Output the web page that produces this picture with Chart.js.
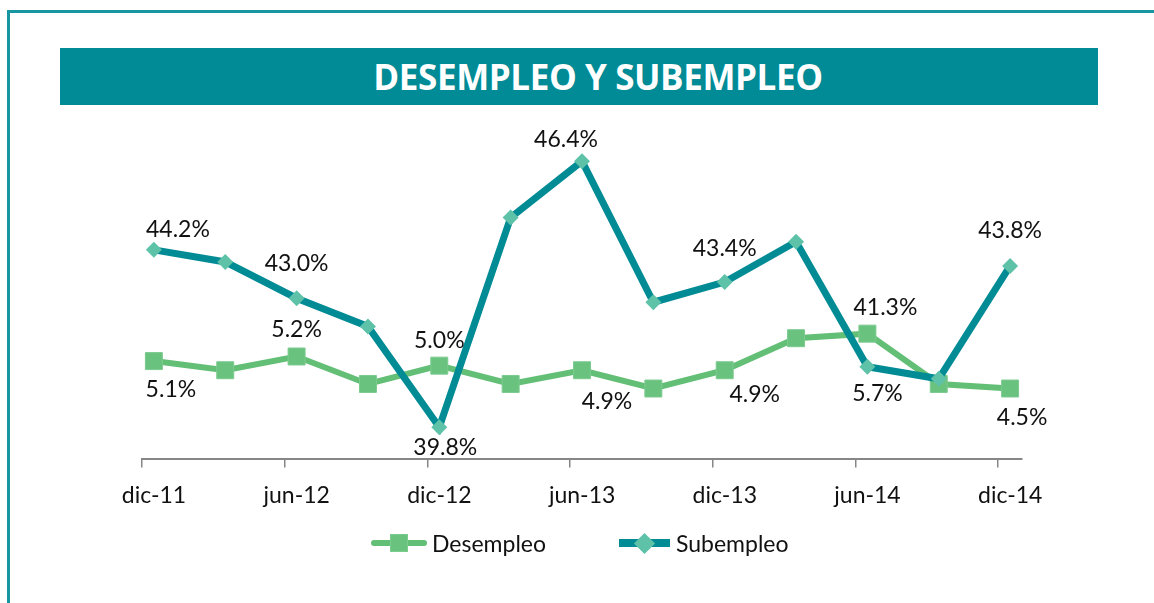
<!DOCTYPE html>
<html>
<head>
<meta charset="utf-8">
<script src="https://cdn.jsdelivr.net/npm/chart.js@4/dist/chart.umd.min.js"></script>
<style>
  body { margin: 0; background: #fff; }
  #page { position: relative; width: 1154px; height: 603px; overflow: hidden; font-family: Lato, sans-serif; }
  #frame { position: absolute; left: 7px; top: 10px; right: -5px; bottom: -5px;
           border-top: 3px solid #1796a0; border-left: 3px solid #1796a0; }
  #banner { position: absolute; left: 60px; top: 48px; width: 1038px; height: 57px; background: #008b96;
            color: #fff; font: bold 35px "Open Sans", sans-serif; letter-spacing: -0.4px;
            display: flex; align-items: center; justify-content: center; padding-left: 38px; box-sizing: border-box; }
  #chart { position: absolute; left: 0; top: 0; }
  .lg { position: absolute; }
  .lg-text { position: absolute; font-size: 23px; color: #111; line-height: 28px; top: 529px; }
</style>
</head>
<body>
<div id="page">
  <div id="frame"></div>
  <div id="banner">DESEMPLEO Y SUBEMPLEO</div>
  <canvas id="chart" width="1154" height="603"></canvas>
  <div id="legend"></div>
</div>
<script>
// quarterly periods, dic-11 .. dic-14
const periods = ["dic-11","mar-12","jun-12","sep-12","dic-12","mar-13","jun-13","sep-13","dic-13","mar-14","jun-14","sep-14","dic-14"];
const tickLabels = ["dic-11","jun-12","dic-12","jun-13","dic-13","jun-14","dic-14"];

// rates in %
const desempleo = [5.1, 4.9, 5.2, 4.6, 5.0, 4.6, 4.9, 4.5, 4.9, 5.6, 5.7, 4.6, 4.5];
const subempleo = [44.2, 43.9, 43.0, 42.3, 39.8, 45.0, 46.4, 42.9, 43.4, 44.4, 41.3, 41.0, 43.8];

const GREEN = "#63be76", GREEN_PT = "#6ac27f";
const TEAL = "#008b95", TEAL_PT = "#5ec2a9";

// month slots since dic-11, points sit in the middle of their month (excel date axis)
const toPts = (vals) => vals.map((v, i) => ({ x: i * 3 + 0.5, y: v }));

// label offsets (px) from the point, per labelled point (every other one)
const labelOffsets = {
  0: [[17, 28], [0, -28], [0, -26], [25, 31], [30, 24], [10, 59], [12, 28]],
  1: [[24, -21], [0, -35], [6, 20], [-16, -22], [0, -34], [18, -60], [0, -36]]
};

const pointLabels = {
  id: "pointLabels",
  afterDatasetsDraw(chart) {
    const ctx = chart.ctx;
    ctx.save();
    ctx.font = "23px Lato";
    ctx.fillStyle = "#111";
    ctx.textAlign = "center";
    ctx.textBaseline = "alphabetic";
    chart.data.datasets.forEach((ds, di) => {
      const meta = chart.getDatasetMeta(di);
      meta.data.forEach((pt, i) => {
        if (i % 2) return;
        const off = labelOffsets[di][i / 2];
        const txt = ds.data[i].y.toFixed(1) + "%";
        ctx.fillText(txt, pt.x + off[0], pt.y + off[1] + 8);
      });
    });
    ctx.restore();
  }
};

new Chart(document.getElementById("chart"), {
  type: "line",
  data: {
    datasets: [
      {
        label: "Desempleo", data: toPts(desempleo), yAxisID: "y", order: 1,
        borderColor: GREEN, borderWidth: 6, backgroundColor: GREEN_PT,
        pointStyle: "rect", pointRadius: 12, pointBorderColor: "#7ccb8f", pointBorderWidth: 1,
        pointBackgroundColor: GREEN_PT, tension: 0
      },
      {
        label: "Subempleo", data: toPts(subempleo), yAxisID: "y2", order: 0,
        borderColor: TEAL, borderWidth: 7, backgroundColor: TEAL_PT,
        pointStyle: "rectRot", pointRadius: 8, pointBorderWidth: 0,
        pointBackgroundColor: TEAL_PT, tension: 0
      }
    ]
  },
  options: {
    responsive: false,
    animation: false,
    layout: { padding: { left: 142, right: 132, top: 137, bottom: 80 } },
    plugins: { legend: { display: false }, tooltip: { enabled: false } },
    scales: {
      x: {
        type: "linear", min: 0, max: 37,
        grid: { drawOnChartArea: false, drawTicks: true, tickLength: 8, color: "#868686", lineWidth: 1.5 },
        border: { display: true, color: "#868686", width: 2 },
        ticks: {
          stepSize: 6, includeBounds: false, autoSkip: false, maxRotation: 0,
          labelOffset: 12, padding: 14, color: "#111",
          font: { family: "Lato", size: 23 },
          callback: (v) => tickLabels[v / 6] ?? ""
        }
      },
      y: { display: false, min: 2.95, max: 10 },
      y2: { display: false, min: 39, max: 47 }
    }
  },
  plugins: [pointLabels]
});

// legend: line + marker + name, built from the series labels
const legend = document.getElementById("legend");
legend.innerHTML = `
  <div class="lg" style="left:371px;top:540px;width:56px;height:6px;border-radius:3px;background:${GREEN}"></div>
  <div class="lg" style="left:390px;top:534px;width:18px;height:18px;background:${GREEN_PT};border:1px solid #7ccb8f;box-sizing:border-box"></div>
  <div class="lg-text" style="left:432px">Desempleo</div>
  <div class="lg" style="left:619px;top:539px;width:51px;height:8px;background:${TEAL}"></div>
  <div class="lg" style="left:637px;top:536px;width:15px;height:15px;background:${TEAL_PT};transform:rotate(45deg)"></div>
  <div class="lg-text" style="left:676px">Subempleo</div>`;
</script>
</body>
</html>
